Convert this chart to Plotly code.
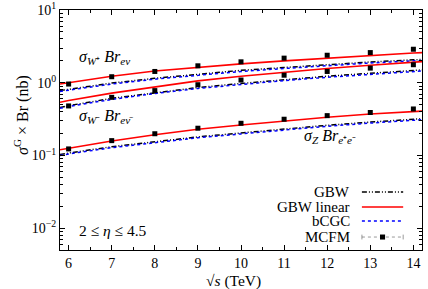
import plotly.graph_objects as go

# ---------------- data ----------------
sqrt_s_pts = [6, 7, 8, 9, 10, 11, 12, 13, 14]
mcfm_wp = [0.96, 1.21, 1.43, 1.71, 1.94, 2.18, 2.39, 2.60, 2.89]
mcfm_wm = [0.48, 0.63, 0.78, 0.94, 1.09, 1.27, 1.43, 1.59, 1.77]
mcfm_z = [0.123, 0.160, 0.199, 0.237, 0.277, 0.315, 0.353, 0.390, 0.436]

sqrt_s_curve = [5.8, 6, 7, 8, 9, 10, 11, 12, 13, 14, 14.2]
lin_wp = [0.96, 1.00, 1.23, 1.45, 1.64, 1.82, 2.00, 2.19, 2.37, 2.57, 2.60]
lin_wm = [0.54, 0.57, 0.72, 0.88, 1.06, 1.23, 1.40, 1.57, 1.74, 1.92, 1.95]
lin_z = [0.120, 0.126, 0.158, 0.193, 0.229, 0.263, 0.299, 0.335, 0.372, 0.403, 0.407]

gbw_wp = [0.78, 0.81, 0.99, 1.15, 1.32, 1.48, 1.62, 1.78, 1.93, 2.07, 2.09]
gbw_wm = [0.457, 0.484, 0.61, 0.733, 0.861, 0.977, 1.10, 1.23, 1.35, 1.48, 1.50]
gbw_z = [0.103, 0.108, 0.132, 0.155, 0.180, 0.204, 0.232, 0.260, 0.288, 0.316, 0.320]

bcgc_wp = [0.76, 0.79, 0.96, 1.12, 1.28, 1.43, 1.57, 1.72, 1.87, 2.00, 2.02]
bcgc_wm = [0.445, 0.471, 0.59, 0.712, 0.835, 0.948, 1.07, 1.19, 1.31, 1.43, 1.45]
bcgc_z = [0.100, 0.105, 0.128, 0.150, 0.175, 0.198, 0.225, 0.252, 0.279, 0.306, 0.310]

x_ticks = [6, 7, 8, 9, 10, 11, 12, 13, 14]
y_ticks = [0.01, 0.1, 1, 10]
y_ticktext = ["10<sup>−2</sup>", "10<sup>−1</sup>", "10<sup>0</sup>", "10<sup>1</sup>"]
legend_names = ["GBW", "GBW linear", "bCGC", "MCFM"]

# ---------------- figure ----------------
FONT = "Liberation Serif"
GBW_DASH = "5px,2px,1px,2px,1px,2px"

fig = go.Figure()
for ys in (gbw_wp, gbw_wm, gbw_z):
    fig.add_trace(go.Scatter(x=sqrt_s_curve, y=ys, mode="lines",
                             line=dict(color="black", width=1.5, dash=GBW_DASH),
                             showlegend=False))
for ys in (bcgc_wp, bcgc_wm, bcgc_z):
    fig.add_trace(go.Scatter(x=sqrt_s_curve, y=ys, mode="lines",
                             line=dict(color="#0000ff", width=1.5, dash="dot"),
                             showlegend=False))
for ys in (lin_wp, lin_wm, lin_z):
    fig.add_trace(go.Scatter(x=sqrt_s_curve, y=ys, mode="lines",
                             line=dict(color="#ff0000", width=1.6),
                             showlegend=False))
for ys in (mcfm_wp, mcfm_wm, mcfm_z):
    fig.add_trace(go.Scatter(x=sqrt_s_pts, y=ys, mode="markers",
                             marker=dict(symbol="square", color="black", size=5),
                             showlegend=False))

minor_y = [k * 10.0 ** d for d in (-3, -2, -1, 0) for k in range(2, 10)]

fig.update_xaxes(range=[5.8, 14.2], tickvals=x_ticks, ticks="inside", ticklen=5,
                 showgrid=False, zeroline=False, showline=True, linecolor="black",
                 linewidth=1, mirror="ticks", tickcolor="black",
                 ticklabeloverflow="allow", automargin=False,
                 minor=dict(dtick=0.5, ticks="inside", ticklen=3, tickcolor="black"),
                 tickfont=dict(family=FONT, size=14, color="black"))
fig.update_yaxes(type="log", range=[-2.3, 1.0005], tickvals=y_ticks, ticktext=y_ticktext,
                 ticks="inside", ticklen=5, showgrid=False, zeroline=False,
                 showline=True, linecolor="black", linewidth=1, mirror="ticks",
                 tickcolor="black", ticklabeloverflow="allow", automargin=False,
                 minor=dict(tickvals=minor_y, ticks="inside", ticklen=3, tickcolor="black"),
                 tickfont=dict(family=FONT, size=14, color="black"))

def txt(x, y, s, xanchor="left", size=15.5, **kw):
    fig.add_annotation(x=x, y=y, xref="paper", yref="paper", text=s, showarrow=False,
                       xanchor=xanchor, yanchor="middle",
                       font=dict(family=FONT, size=size, color="black"), **kw)

txt(0.047, 0.804, "<i>σ</i><sub><i>W</i>⁺</sub> <i>Br</i><sub><i>eν</i></sub>", size=16)
txt(0.047, 0.558, "<i>σ</i><sub><i>W</i>⁻</sub> <i>Br</i><sub><i>eν̄</i></sub>", size=16)
txt(0.668, 0.471, "<i>σ<sub>Z</sub></i> <i>Br</i><sub><i>e</i>⁺<i>e</i>⁻</sub>", size=16)
txt(0.047, 0.083, "2 ≤ <i>η</i> ≤ 4.5", size=15.5)
txt(-0.108, 0.5625, "<i>σ</i><sup>G</sup> × Br (nb)", xanchor="center", size=16, textangle=-90)
txt(0.478, -0.13, "√<i>s</i> (TeV)", xanchor="center", size=15.5)

# manual legend (text left of sample, as in the reference)
leg_y = [0.242, 0.179, 0.121, 0.054]
x0, x1 = 0.834, 0.948
for name, ly in zip(legend_names, leg_y):
    txt(0.807, ly, name, xanchor="right", size=15)
fig.add_shape(type="line", xref="paper", yref="paper", x0=x0, x1=x1, y0=leg_y[0], y1=leg_y[0],
              line=dict(color="black", width=1.5, dash=GBW_DASH))
fig.add_shape(type="line", xref="paper", yref="paper", x0=x0, x1=x1, y0=leg_y[1], y1=leg_y[1],
              line=dict(color="#ff0000", width=1.6))
fig.add_shape(type="line", xref="paper", yref="paper", x0=x0, x1=x1, y0=leg_y[2], y1=leg_y[2],
              line=dict(color="#0000ff", width=1.5, dash="dot"))
fig.add_shape(type="line", xref="paper", yref="paper", x0=x0, x1=x1, y0=leg_y[3], y1=leg_y[3],
              line=dict(color="#555555", width=0.6, dash="dot"))
for xe in (x0, x1):
    fig.add_shape(type="line", xref="paper", yref="paper", x0=xe, x1=xe,
                  y0=leg_y[3] - 0.01, y1=leg_y[3] + 0.01,
                  line=dict(color="#555555", width=0.6))
xm = (x0 + x1) / 2
fig.add_shape(type="rect", xref="paper", yref="paper", x0=xm - 0.007, x1=xm + 0.007,
              y0=leg_y[3] - 0.0105, y1=leg_y[3] + 0.0105, fillcolor="black", line=dict(width=0))

fig.update_layout(width=428, height=289, margin=dict(l=60, r=6, t=10, b=39, autoexpand=False),
                  plot_bgcolor="white", paper_bgcolor="white", showlegend=False,
                  font=dict(family=FONT, size=14, color="black"))

# remove the page's default 8px body margin so the figure sits at the window's corner
fig.write_html("out.html", config={"displayModeBar": False},
               post_script="document.body.style.margin='0';")
